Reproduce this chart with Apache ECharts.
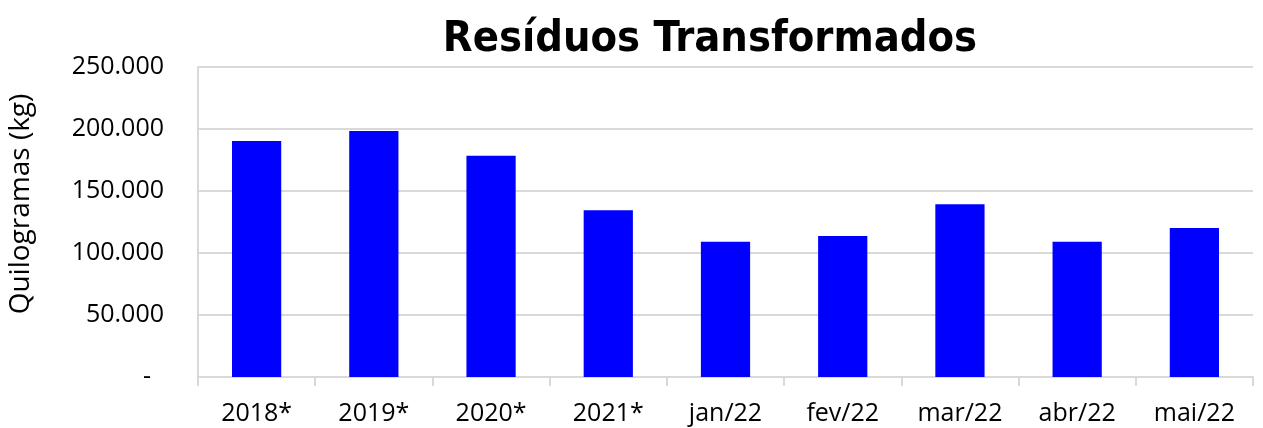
<!DOCTYPE html>
<html>
<head>
<meta charset="utf-8">
<script src="https://cdn.jsdelivr.net/npm/echarts@6/dist/echarts.min.js"></script>
<style>
  html, body { margin: 0; padding: 0; background: #fff; }
  #chart { width: 1263px; height: 428px; }
</style>
</head>
<body>
<div id="chart"></div>
<script>
var categories = ['2018*', '2019*', '2020*', '2021*', 'jan/22', 'fev/22', 'mar/22', 'abr/22', 'mai/22'];
var values = [190300, 198400, 178500, 134400, 109000, 113700, 139300, 109000, 120200];

var chart = echarts.init(document.getElementById('chart'));

function fmt(v) {
  if (v === 0) return '-  ';
  return String(v).replace(/\B(?=(\d{3})+(?!\d))/g, '.');
}

var option = {
  animation: false,
  title: {
    text: 'Resíduos Transformados',
    left: 705,
    textAlign: 'center',
    top: 13,
    textStyle: {
      fontFamily: 'DejaVu Sans Condensed',
      fontWeight: 'bold',
      fontSize: 43,
      color: '#000'
    }
  },
  graphic: [{
    type: 'text',
    x: 21,
    y: 204,
    rotation: Math.PI / 2,
    style: {
      text: 'Quilogramas (kg)',
      fill: '#000',
      font: '28px "Open Sans"',
      textAlign: 'center',
      textVerticalAlign: 'middle'
    }
  }],
  grid: { left: 198, right: 10, top: 67, bottom: 51 },
  xAxis: {
    type: 'category',
    data: categories,
    axisLine: { lineStyle: { color: '#d9d9d9', width: 2 } },
    axisTick: { show: true, length: 9, lineStyle: { color: '#d9d9d9', width: 2 } },
    axisLabel: { color: '#000', fontSize: 25, fontFamily: 'Open Sans', margin: 24 }
  },
  yAxis: {
    type: 'value',
    min: 0,
    max: 250000,
    interval: 50000,
    axisLine: { show: true, lineStyle: { color: '#d9d9d9', width: 2 } },
    splitLine: { lineStyle: { color: '#d9d9d9', width: 2 } },
    axisLabel: { color: '#000', fontSize: 25, fontFamily: 'Open Sans', margin: 34, formatter: fmt }
  },
  series: [{
    type: 'bar',
    data: values,
    barWidth: '42%',
    itemStyle: { color: '#0000ff' }
  }]
};

chart.setOption(option);
</script>
</body>
</html>
